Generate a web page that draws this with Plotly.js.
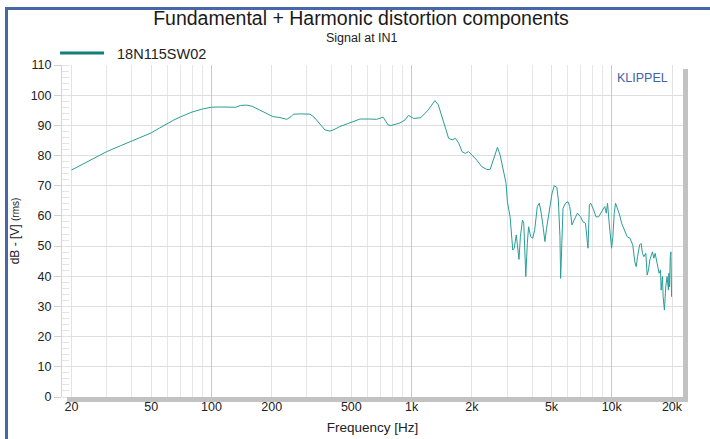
<!DOCTYPE html>
<html>
<head>
<meta charset="utf-8">
<script src="https://cdn.plot.ly/plotly-3.0.1.min.js"></script>
<style>html,body{margin:0;padding:0;background:#fff;}#chart{width:710px;height:439px;}</style>
</head>
<body>
<div id="chart"></div>
<script>
// Frequency (Hz) and level (dB)
const freq = [20,25,30,35,40,45,50,55,60,65,70,80,90,100,110,120,132,140,150,160,175,190,203,220,238,250,257,280,311,325,335,350,369,391,410,438,470,501,553,620,668,721,764,794,875,927,965,1025,1110,1211,1308,1360,1441,1531,1595,1656,1720,1787,1855,1925,2000,2117,2243,2376,2469,2564,2685,2769,2877,2965,3011,3106,3203,3256,3335,3386,3440,3496,3579,3635,3692,3721,3786,3843,3936,4027,4120,4248,4345,4446,4549,4635,4725,4850,5034,5160,5315,5410,5512,5555,5632,5710,5870,6040,6170,6330,6480,6740,6990,7170,7390,7500,7610,7730,7850,8120,8340,8600,9020,9230,9390,9530,9680,9830,9980,10130,10290,10450,10700,10950,11200,11390,11580,11940,12330,12730,13040,13250,13460,13780,14020,14240,14460,14800,15030,15260,15500,15740,15980,16230,16480,16720,16990,17250,17520,17650,17920,18060,18330,18610,18900,19200,19300,19450,19600,19750,19820,19900];
const level = [75.2,78.5,81.3,83.2,84.9,86.2,87.5,89.1,90.6,91.8,92.8,94.4,95.4,96.0,96.1,96.0,96.0,96.6,96.7,96.3,95.0,93.7,92.9,92.6,92.0,92.9,93.7,93.8,93.7,92.8,91.8,90.0,88.5,88.1,88.6,89.6,90.4,91.2,92.1,92.1,92.0,92.7,90.1,90.0,90.8,91.8,93.3,92.3,92.5,95.1,98.2,96.8,91.2,85.7,85.2,85.7,84.1,81.3,80.7,81.3,80.2,78.5,76.3,75.4,75.4,78.5,82.7,80.2,75.2,70.8,64.7,59.7,48.7,49.3,53.7,49.8,45.6,53.1,58.6,57.6,47.6,39.9,50.9,56.4,53.1,52.6,55.3,63.1,64.2,60.9,55.9,51.5,55.9,60.9,67.5,70.0,69.5,65.3,53.1,39.3,49.8,62.5,64.2,64.7,63.1,57.0,58.6,60.9,59.7,58.1,57.6,54.2,49.3,63.6,64.2,62.0,59.7,59.7,62.0,63.1,60.9,64.2,58.6,54.2,49.3,53.1,60.9,64.2,62.5,60.3,57.6,56.4,54.8,53.1,52.6,50.4,44.8,43.2,46.5,50.4,50.9,47.6,46.5,47.6,40.4,42.1,45.4,46.5,48.1,46.0,47.6,45.4,42.6,41.0,42.1,35.4,39.9,33.2,28.8,36.5,39.9,35.4,41.0,36.5,46.5,48.1,42.1,33.2];

const seriesName = '18N115SW02';
const xTickVals = [20,50,100,200,500,1000,2000,5000,10000,20000];
const xTickText = ['20','50','100','200','500','1k','2k','5k','10k','20k'];
const xMinorVals = [30,40,60,70,80,90,300,400,600,700,800,900,3000,4000,6000,7000,8000,9000];
const xDecadeVals = [100,1000,10000];

const FONT = 'Arial, "Liberation Sans", sans-serif';
const TEAL = '#2a9d96';

const traces = [
  {x: freq, y: level, type: 'scatter', mode: 'lines', line: {color: TEAL, width: 1}, showlegend: false, hoverinfo: 'skip'},
  {x: [null], y: [null], type: 'scatter', mode: 'lines', name: '\u00a0\u00a0' + seriesName, line: {color: '#138078', width: 3}, showlegend: true},
  {x: freq, y: level, xaxis: 'x2', type: 'scatter', mode: 'lines', line: {width: 0, color: 'rgba(0,0,0,0)'}, showlegend: false, hoverinfo: 'skip'}
];

const L = 62, R = 683, T = 65, B = 397;
const px = v => (v - L) / (R - L);
const py = v => (B - v) / (B - T);
const xr = [Math.log10(20) - 9.5/200.17, Math.log10(20000) + 11/200.17];

const layout = {
  width: 710, height: 439,
  margin: {l: L, r: 710 - R, t: T, b: 439 - B, pad: 0},
  paper_bgcolor: '#ffffff', plot_bgcolor: '#ffffff',
  font: {family: FONT, color: '#222'},
  title: {text: 'Fundamental + Harmonic distortion components', font: {family: FONT, size: 19.5, color: '#1a1a1a'},
          xref: 'container', x: 361/710, xanchor: 'center', yref: 'container', y: 1 - 18.5/439, yanchor: 'middle'},
  showlegend: true,
  legend: {x: px(55), xanchor: 'left', y: py(53), yanchor: 'middle', bgcolor: 'rgba(0,0,0,0)', borderwidth: 0,
           font: {family: FONT, size: 14.5, color: '#222'}, itemwidth: 44},
  xaxis: {type: 'log', range: xr, tickvals: xTickVals, ticktext: xTickText, ticks: '', showline: false, zeroline: false,
          showgrid: true, gridcolor: '#e3e3e3', gridwidth: 1,
          minor: {tickvals: xMinorVals, showgrid: true, gridcolor: '#e6e6e6', gridwidth: 1, ticks: ''},
          tickfont: {family: FONT, size: 12.5, color: '#222'},
          title: {text: 'Frequency [Hz]', font: {family: FONT, size: 13.5, color: '#222'}, standoff: 10}},
  xaxis2: {type: 'log', range: xr, overlaying: 'x', side: 'bottom', tickvals: xDecadeVals, showticklabels: false, ticks: '',
           showgrid: true, gridcolor: '#c9c9c9', gridwidth: 1.5, zeroline: false, showline: false},
  yaxis: {range: [0, 110], tick0: 0, dtick: 10, ticks: 'outside', ticklen: 7, tickcolor: '#d0d0d0',
          showline: true, linecolor: '#d6d6d6', zeroline: false, showgrid: true, gridcolor: '#dedede',
          minor: {dtick: 2, ticks: 'inside', ticklen: 7, tickcolor: '#e3e3e3', showgrid: false},
          tickfont: {family: FONT, size: 12.5, color: '#222'},
          title: {text: 'dB - [V] <span style="font-size:10px">(rms)</span>', font: {family: FONT, size: 12, color: '#222'}, standoff: 8}},
  annotations: [
    {text: 'Signal at IN1', xref: 'paper', yref: 'paper', x: px(362), y: py(38), xanchor: 'center', yanchor: 'middle', showarrow: false,
     font: {family: FONT, size: 12.5, color: '#222'}},
    {text: 'KLIPPEL', xref: 'paper', yref: 'paper', x: px(642), y: py(78), xanchor: 'center', yanchor: 'middle', showarrow: false,
     font: {family: FONT, size: 12.5, color: '#4262a6'}}
  ],
  shapes: [
    {type: 'rect', xref: 'paper', yref: 'paper', x0: 1, x1: px(R + 5), y0: py(B + 5), y1: py(T + 4), fillcolor: '#c2c2c2', line: {width: 0}},
    {type: 'rect', xref: 'paper', yref: 'paper', x0: px(L + 5), x1: px(R + 5), y0: py(B + 5), y1: 0, fillcolor: '#c2c2c2', line: {width: 0}},
    {type: 'rect', xref: 'paper', yref: 'paper', x0: px(5), x1: px(712), y0: py(10), y1: py(7), fillcolor: '#4767a6', line: {width: 0}},
    {type: 'rect', xref: 'paper', yref: 'paper', x0: px(5), x1: px(8), y0: py(441), y1: py(7), fillcolor: '#4767a6', line: {width: 0}}
  ]
};

Plotly.newPlot('chart', traces, layout, {staticPlot: true, displayModeBar: false});
</script>
</body>
</html>
